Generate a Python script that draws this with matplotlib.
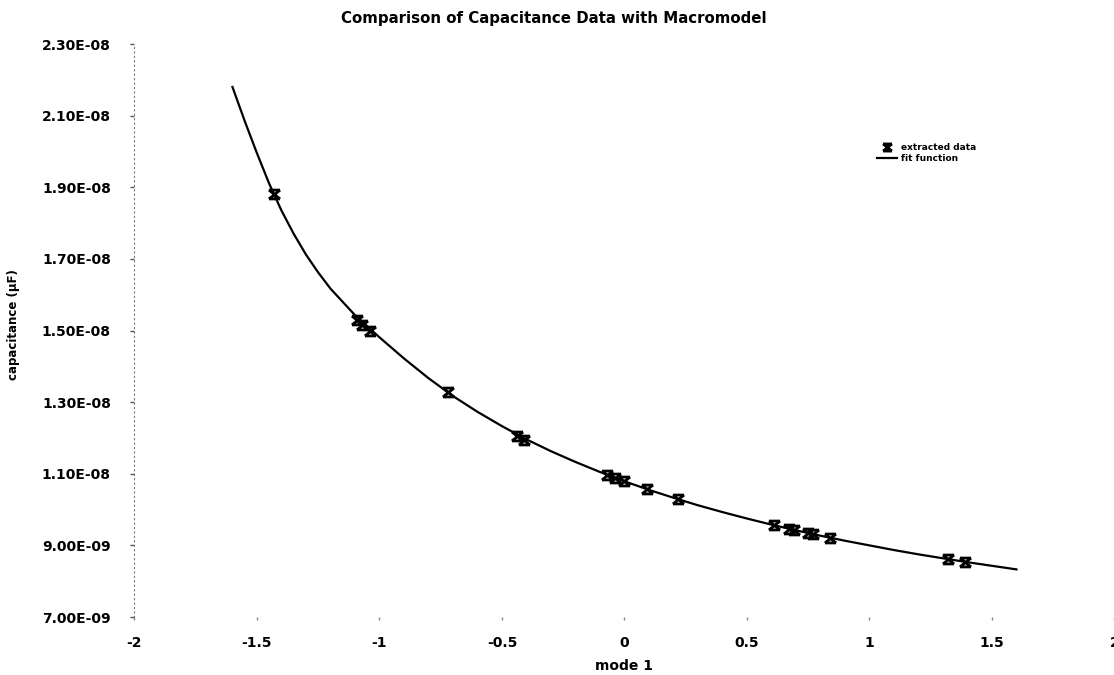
import matplotlib
matplotlib.use("Agg")
import matplotlib.pyplot as plt
from matplotlib.path import Path
from matplotlib.ticker import FixedLocator, FuncFormatter

# extracted data (capacitance in units of 1e-9)
mode_data = [-1.43, -1.09, -1.07, -1.04, -0.72, -0.44, -0.41, -0.07, -0.04, 0.00,
             0.09, 0.22, 0.61, 0.67, 0.69, 0.75, 0.77, 0.84, 1.32, 1.39]
cap_data = [18.80, 15.30, 15.15, 15.00, 13.27, 12.05, 11.93, 10.97, 10.89, 10.79,
            10.57, 10.29, 9.57, 9.47, 9.44, 9.35, 9.31, 9.21, 8.62, 8.55]

# fit function
mode_fit = [-1.60, -1.55, -1.50, -1.45, -1.40, -1.35, -1.30, -1.25, -1.20, -1.10, -1.00, -0.90,
            -0.80, -0.70, -0.60, -0.50, -0.40, -0.30, -0.20, -0.10, 0.00, 0.10,
            0.20, 0.30, 0.40, 0.50, 0.60, 0.70, 0.80, 0.90, 1.00, 1.10,
            1.20, 1.30, 1.40, 1.50, 1.60]
cap_fit = [21.80, 20.85, 19.95, 19.10, 18.35, 17.70, 17.12, 16.62, 16.17, 15.43, 14.81, 14.22,
           13.67, 13.17, 12.73, 12.33, 11.96, 11.63, 11.33, 11.05, 10.79, 10.55,
           10.33, 10.12, 9.93, 9.75, 9.58, 9.42, 9.27, 9.13, 9.00, 8.87,
           8.75, 8.64, 8.53, 8.43, 8.33]

x_ticks = [-2, -1.5, -1, -0.5, 0, 0.5, 1, 1.5, 2]
y_ticks = [7e-9, 9e-9, 1.1e-8, 1.3e-8, 1.5e-8, 1.7e-8, 1.9e-8, 2.1e-8, 2.3e-8]

plt.rcParams['font.family'] = 'DejaVu Sans'
plt.rcParams['font.weight'] = 'bold'

# X with top and bottom bars
star_x = Path([(-1.25, -1), (1.25, 1), (-1.25, 1), (1.25, -1),
               (-1.25, 1), (1.25, 1), (-1.25, -1), (1.25, -1)],
              [Path.MOVETO, Path.LINETO] * 4)

fig = plt.figure(figsize=(11.14, 6.75), dpi=100)
ax = fig.add_axes([0.1207, 0.0859, 0.8797, 0.8489])

ax.plot(mode_fit, [c * 1e-9 for c in cap_fit], color='black', lw=1.6, label='fit function', zorder=2)
ax.plot(mode_data, [c * 1e-9 for c in cap_data], linestyle='none', marker=star_x,
        markersize=8, markeredgewidth=2.0, color='black', label='extracted data', zorder=3)

ax.set_xlim(-2, 2)
ax.set_ylim(7e-9, 2.3e-8)
ax.xaxis.set_major_locator(FixedLocator(x_ticks))
ax.yaxis.set_major_locator(FixedLocator(y_ticks))
ax.xaxis.set_major_formatter(FuncFormatter(lambda v, p: '%g' % v))
ax.yaxis.set_major_formatter(FuncFormatter(lambda v, p: '%.2E' % v))

for s in ['top', 'right', 'bottom']:
    ax.spines[s].set_visible(False)
ax.spines['left'].set_linestyle((0, (1, 3)))
ax.spines['left'].set_color('#777777')
ax.tick_params(axis='y', length=3, width=1, color='#555555', labelsize=10, pad=14)
ax.tick_params(axis='x', length=2, width=1, color='#888888', labelsize=10, pad=12)

ax.set_xlabel('mode 1', fontsize=10, fontweight='bold', labelpad=6)
fig.text(0.012, 0.519, 'capacitance (\u00b5F)', rotation=90, fontsize=8.5,
         fontweight='bold', ha='center', va='center')
fig.text(0.497, 0.972, 'Comparison of Capacitance Data with Macromodel',
         fontsize=10.8, fontweight='bold', ha='center', va='center')

handles, labels = ax.get_legend_handles_labels()
ax.legend(handles[::-1], labels[::-1], loc='upper left', bbox_to_anchor=(0.78, 0.8),
          bbox_transform=fig.transFigure, frameon=False, fontsize=6.5,
          handlelength=2.2, handletextpad=0.4, labelspacing=0.2, markerscale=0.8)

fig.savefig('out.png', dpi=100)
